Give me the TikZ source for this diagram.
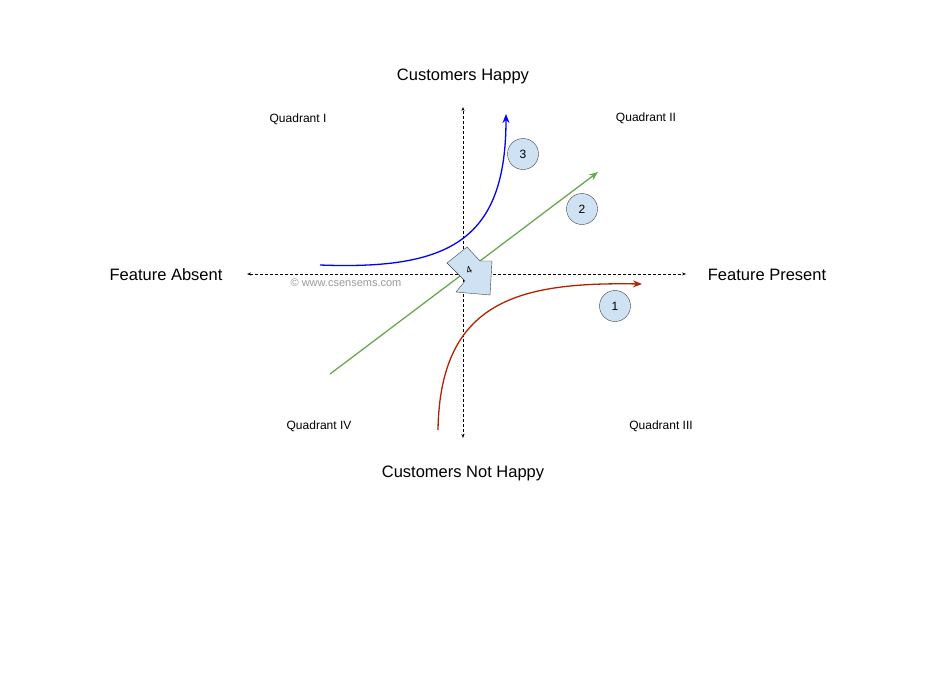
\documentclass[tikz,border=0pt]{standalone}
\usepackage{fontspec}
\setmainfont{Liberation Sans}
\usetikzlibrary{arrows.meta}
\begin{document}
\begin{tikzpicture}[x=1pt,y=-1pt,
 axis/.style={densely dashed,line width=0.6pt},
 tip/.style={-{Stealth[length=4pt,width=3pt]}},
 curve/.style={line width=1.3pt,-{Stealth[length=9pt,width=7pt]}},
 big/.style={font=\fontsize{16.5}{18}\selectfont},
 quad/.style={font=\fontsize{12}{14}\selectfont},
 num/.style={circle,draw=black!75,fill={rgb,255:red,207;green,226;blue,243},minimum size=31pt,inner sep=0pt,font=\fontsize{12}{14}\selectfont}]
\path[use as bounding box] (0,0) rectangle (936,672);
\coordinate (hl) at (247,274); \coordinate (hr) at (686,274);
\coordinate (vt) at (463,107); \coordinate (vb) at (463,438);
\coordinate (o) at (463,274);
\draw[axis,tip] (o) -- (hr);
\draw[axis,tip] (o) -- (hl);
\draw[axis,tip] (o) -- (vt);
\draw[axis,tip] (o) -- (vb);
\node[big] (ch) at (463,76) {Customers Happy};
\node[big] (cn) at (463,473) {Customers Not Happy};
\node[big] (fa) at (166,275) {Feature Absent};
\node[big] (fp) at (767,275) {Feature Present};
\node[quad] (q1) at (298,119) {Quadrant I};
\node[quad] (q2) at (646,118) {Quadrant II};
\node[quad] (q4) at (319,426) {Quadrant IV};
\node[quad] (q3) at (661,426) {Quadrant III};
\node[font=\fontsize{11}{12}\selectfont,text=black!40] (wm) at (346,283) {© www.csensems.com};
\coordinate (g1) at (330,374); \coordinate (g2) at (598,172);
\draw[curve,color={rgb,255:red,106;green,168;blue,79}] (g1) -- (g2);
\coordinate (b1) at (320,265); \coordinate (b2) at (506,114);
\draw[curve,color={rgb,255:red,0;green,0;blue,255}] (b1) .. controls (450,270) and (506,240) .. (b2);
\coordinate (r1) at (438,430); \coordinate (r2) at (642,284);
\draw[curve,color={rgb,255:red,178;green,34;blue,0}] (r1) .. controls (440,300) and (520,282) .. (r2);
\node[num] (n1) at (615,306) {1};
\node[num] (n2) at (582,209) {2};
\node[num] (n3) at (523,154) {3};
\draw[black!75,fill={rgb,255:red,207;green,226;blue,243}] (447,263) -- (467,247) -- (480,261) -- (492,261) -- (490,295) -- (456,292) -- (465,281) -- cycle;
\node[font=\fontsize{10}{11}\selectfont,rotate=25] (n4) at (469,270) {4};
\end{tikzpicture}
\end{document}
